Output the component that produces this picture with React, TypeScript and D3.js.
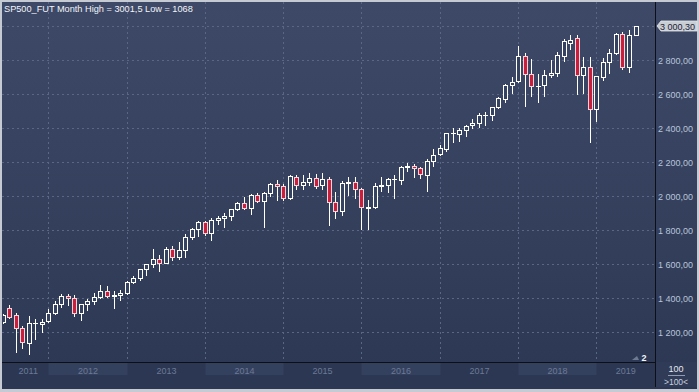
import React, { useEffect, useRef } from 'react';
import * as d3 from 'd3';

// monthly candles, Jun 2011 .. Jul 2019
const months = [
  '2011-06', '2011-07', '2011-08', '2011-09', '2011-10', '2011-11', '2011-12',
  '2012-01', '2012-02', '2012-03', '2012-04', '2012-05', '2012-06', '2012-07', '2012-08', '2012-09', '2012-10', '2012-11', '2012-12',
  '2013-01', '2013-02', '2013-03', '2013-04', '2013-05', '2013-06', '2013-07', '2013-08', '2013-09', '2013-10', '2013-11', '2013-12',
  '2014-01', '2014-02', '2014-03', '2014-04', '2014-05', '2014-06', '2014-07', '2014-08', '2014-09', '2014-10', '2014-11', '2014-12',
  '2015-01', '2015-02', '2015-03', '2015-04', '2015-05', '2015-06', '2015-07', '2015-08', '2015-09', '2015-10', '2015-11', '2015-12',
  '2016-01', '2016-02', '2016-03', '2016-04', '2016-05', '2016-06', '2016-07', '2016-08', '2016-09', '2016-10', '2016-11', '2016-12',
  '2017-01', '2017-02', '2017-03', '2017-04', '2017-05', '2017-06', '2017-07', '2017-08', '2017-09', '2017-10', '2017-11', '2017-12',
  '2018-01', '2018-02', '2018-03', '2018-04', '2018-05', '2018-06', '2018-07', '2018-08', '2018-09', '2018-10', '2018-11', '2018-12',
  '2019-01', '2019-02', '2019-03', '2019-04', '2019-05', '2019-06', '2019-07',
];

const opens = [
  1259, 1338, 1300, 1220, 1131, 1250, 1248,
  1262, 1312, 1366, 1408, 1398, 1310, 1362, 1379, 1407, 1441, 1412, 1416,
  1426, 1495, 1515, 1567, 1597, 1631, 1606, 1686, 1638, 1680, 1757, 1806,
  1845, 1783, 1858, 1870, 1884, 1924, 1957, 1927, 2003, 1968, 2016, 2068,
  2058, 1990, 2110, 2062, 2083, 2108, 2062, 2102, 1966, 1910, 2076, 2084,
  2043, 1931, 1933, 2058, 2064, 2097, 2092, 2172, 2176, 2162, 2124, 2205,
  2245, 2275, 2370, 2365, 2386, 2417, 2428, 2474, 2477, 2522, 2572, 2650,
  2678, 2826, 2716, 2648, 2650, 2712, 2726, 2824, 2902, 2928, 2712, 2758,
  2512, 2702, 2787, 2839, 2953, 2757, 2948,
];

const highs = [
  1302, 1360, 1310, 1234, 1293, 1277, 1272,
  1335, 1378, 1420, 1422, 1415, 1363, 1392, 1430, 1475, 1470, 1438, 1448,
  1500, 1530, 1570, 1600, 1687, 1654, 1698, 1707, 1730, 1775, 1812, 1850,
  1850, 1867, 1884, 1897, 1924, 1962, 1991, 2008, 2019, 2020, 2075, 2093,
  2072, 2122, 2122, 2122, 2135, 2129, 2133, 2113, 2020, 2090, 2113, 2110,
  2046, 1975, 2074, 2109, 2103, 2120, 2178, 2194, 2190, 2170, 2215, 2278,
  2300, 2372, 2401, 2400, 2418, 2454, 2488, 2494, 2520, 2582, 2660, 2700,
  2880, 2840, 2803, 2720, 2742, 2800, 2850, 2925, 2950, 2946, 2820, 2815,
  2708, 2810, 2862, 2960, 2964, 2977, 3001.5,
];

const lows = [
  1252, 1283, 1082, 1102, 1068, 1155, 1200,
  1255, 1306, 1347, 1358, 1291, 1267, 1325, 1365, 1397, 1403, 1340, 1385,
  1420, 1485, 1503, 1536, 1581, 1555, 1603, 1625, 1630, 1640, 1745, 1765,
  1770, 1738, 1834, 1815, 1860, 1915, 1925, 1895, 1964, 1814, 2001, 1973,
  1978, 1981, 2038, 2040, 2064, 2044, 2040, 1831, 1868, 1887, 2005, 1985,
  1804, 1802, 1930, 2030, 2024, 1986, 2070, 2148, 2112, 2105, 2028, 2176,
  2238, 2266, 2320, 2322, 2350, 2400, 2405, 2415, 2445, 2518, 2555, 2607,
  2670, 2530, 2588, 2553, 2590, 2698, 2708, 2795, 2862, 2600, 2605, 2316,
  2440, 2684, 2724, 2835, 2746, 2730, 2946,
];

const closes = [
  1298, 1288, 1220, 1140, 1250, 1252, 1257,
  1312, 1366, 1408, 1398, 1310, 1362, 1379, 1407, 1441, 1412, 1416, 1426,
  1495, 1515, 1567, 1597, 1631, 1606, 1686, 1638, 1680, 1757, 1806, 1845,
  1783, 1859, 1870, 1884, 1924, 1957, 1927, 2003, 1968, 2016, 2068, 2058,
  1990, 2115, 2062, 2082, 2106, 2060, 2102, 1966, 1908, 2076, 2084, 2043,
  1935, 1933, 2058, 2064, 2097, 2098, 2172, 2174, 2166, 2128, 2204, 2240,
  2280, 2370, 2373, 2386, 2414, 2430, 2478, 2477, 2522, 2574, 2650, 2670,
  2826, 2716, 2648, 2649, 2710, 2726, 2828, 2912, 2920, 2712, 2757, 2512,
  2705, 2787, 2839, 2955, 2757, 2947, 3000.3,
];

const years = ['2011', '2012', '2013', '2014', '2015', '2016', '2017', '2018', '2019'];
const priceTicks = [1200, 1400, 1600, 1800, 2000, 2200, 2400, 2600, 2800, 3000];
const lastPrice = 3000.3;
const title = 'SP500_FUT Month High = 3001,5 Low = 1068';

const W = 699;
const H = 392;
const plot = { left: 2, top: 2, right: 655, bottom: 362 };
const FONT = 'Arial, "Liberation Sans", sans-serif';

const locale = d3.formatLocale({ decimal: ',', thousands: ' ', grouping: [3], currency: ['', ''] });
const fmt = locale.format(',.2f');

const App: React.FC = () => {
  const svgRef = useRef<SVGSVGElement>(null);

  useEffect(() => {
    if (!svgRef.current) return;
    const svg = d3.select(svgRef.current);
    svg.selectAll('*').remove();

    const x = d3.scaleLinear().domain([0, months.length - 1]).range([2.6, 635.5]);
    const y = d3.scaleLinear().domain([1200, 2800]).range([331.7, 60]);
    const px = (v: number) => Math.round(v) + 0.5;

    const defs = svg.append('defs');
    const grad = defs.append('linearGradient').attr('id', 'bg').attr('x1', 0).attr('y1', 0).attr('x2', 0).attr('y2', 1);
    grad.append('stop').attr('offset', '0%').attr('stop-color', '#3d4967');
    grad.append('stop').attr('offset', '100%').attr('stop-color', '#2c3853');
    defs.append('clipPath').attr('id', 'plotclip')
      .append('rect')
      .attr('x', plot.left + 1).attr('y', plot.top)
      .attr('width', plot.right - plot.left - 1).attr('height', plot.bottom - plot.top);

    // frame + background
    svg.append('rect').attr('width', W).attr('height', H).attr('fill', '#c6cbd3');
    svg.append('rect').attr('x', 2).attr('y', 2).attr('width', W - 4).attr('height', H - 5).attr('fill', 'url(#bg)');

    // x axis band with alternating years
    const janIdx = months.map((m, i) => (m.endsWith('-01') ? i : -1)).filter(i => i >= 0);
    const bandEdges = [plot.left, ...janIdx.map(i => px(x(i))), plot.right];
    svg.append('rect')
      .attr('x', plot.left).attr('y', plot.bottom)
      .attr('width', plot.right - plot.left).attr('height', 387 - plot.bottom)
      .attr('fill', '#2b3753');
    years.forEach((yr, k) => {
      const x0 = bandEdges[k];
      const x1 = bandEdges[k + 1];
      if (+yr % 2 === 0) {
        svg.append('rect')
          .attr('x', x0).attr('y', plot.bottom)
          .attr('width', x1 - x0).attr('height', 387 - plot.bottom - 12)
          .attr('fill', '#34415e');
      }
      svg.append('text')
        .attr('x', (x0 + x1) / 2 + (k === 0 ? 3 : 0))
        .attr('y', 373.5)
        .attr('text-anchor', 'middle')
        .attr('font-family', FONT)
        .attr('font-size', 9)
        .attr('fill', '#6c7a96')
        .text(yr);
    });

    // right axis box bottom
    svg.append('rect')
      .attr('x', plot.right).attr('y', plot.bottom)
      .attr('width', W - 2 - plot.right).attr('height', 387 - plot.bottom)
      .attr('fill', '#2f3b57');

    // grid
    const grid = svg.append('g').attr('stroke', '#5a6784').attr('stroke-dasharray', '2,3').attr('stroke-width', 1);
    priceTicks.forEach(t => {
      grid.append('line')
        .attr('x1', plot.left).attr('x2', plot.right)
        .attr('y1', px(y(t))).attr('y2', px(y(t)));
    });
    janIdx.forEach(i => {
      grid.append('line')
        .attr('x1', px(x(i))).attr('x2', px(x(i)))
        .attr('y1', plot.top).attr('y2', plot.bottom);
    });

    // candles
    const g = svg.append('g').attr('clip-path', 'url(#plotclip)');
    months.forEach((_, i) => {
      const c = Math.round(x(i));
      const o = opens[i];
      const cl = closes[i];
      const up = cl >= o;
      const yTop = Math.round(y(Math.max(o, cl)));
      const yBot = Math.round(y(Math.min(o, cl)));
      g.append('line')
        .attr('x1', c + 0.5).attr('x2', c + 0.5)
        .attr('y1', Math.round(y(highs[i]))).attr('y2', Math.round(y(lows[i])) + 1)
        .attr('stroke', '#ffffff').attr('stroke-width', 1);
      if (yBot - yTop < 1) {
        g.append('line')
          .attr('x1', c - 2).attr('x2', c + 3)
          .attr('y1', yTop + 0.5).attr('y2', yTop + 0.5)
          .attr('stroke', '#ffffff').attr('stroke-width', 1);
      } else {
        g.append('rect')
          .attr('x', c - 1.5).attr('y', yTop + 0.5)
          .attr('width', 4).attr('height', yBot - yTop)
          .attr('fill', up ? '#354260' : '#c81f3d')
          .attr('stroke', up ? '#ffffff' : '#f3d3da')
          .attr('stroke-width', 1);
      }
    });

    // axis lines
    svg.append('line')
      .attr('x1', plot.left).attr('x2', plot.right)
      .attr('y1', plot.bottom + 0.5).attr('y2', plot.bottom + 0.5)
      .attr('stroke', '#0c0f16');
    svg.append('line')
      .attr('x1', plot.right + 0.5).attr('x2', plot.right + 0.5)
      .attr('y1', plot.top).attr('y2', 387)
      .attr('stroke', '#0c0f16');

    // price labels
    priceTicks.filter(t => t < 3000).forEach(t => {
      svg.append('text')
        .attr('x', 658).attr('y', Math.round(y(t)) + 3.5)
        .attr('font-family', FONT).attr('font-size', 9)
        .attr('fill', '#b9c5da')
        .text(fmt(t));
    });

    // last price tag
    const ty = Math.round(y(lastPrice));
    svg.append('path')
      .attr('d', `M657,${ty} L661,${ty - 5} L${W - 2},${ty - 5} L${W - 2},${ty + 5} L661,${ty + 5} Z`)
      .attr('fill', '#c9cdd4').attr('stroke', '#e6e8ec').attr('stroke-width', 0.8);
    svg.append('text')
      .attr('x', 660).attr('y', ty + 3.5)
      .attr('font-family', FONT).attr('font-size', 9)
      .attr('fill', '#1c2436')
      .text(fmt(lastPrice));

    // title
    svg.append('text')
      .attr('x', 4).attr('y', 12)
      .attr('font-family', FONT).attr('font-size', 9.2)
      .attr('fill', '#f2f4f8')
      .text(title);

    // bottom-right zoom box
    svg.append('text')
      .attr('x', 676).attr('y', 372)
      .attr('text-anchor', 'middle')
      .attr('font-family', FONT).attr('font-size', 9)
      .attr('fill', '#e4e8f0')
      .text('100');
    svg.append('line')
      .attr('x1', 668).attr('x2', 685).attr('y1', 375.5).attr('y2', 375.5)
      .attr('stroke', '#8f9ab0');
    svg.append('text')
      .attr('x', 676).attr('y', 385)
      .attr('text-anchor', 'middle')
      .attr('font-family', FONT).attr('font-size', 8.5)
      .attr('fill', '#c9d0dd')
      .text('>100<');

    // pane marker
    svg.append('path')
      .attr('d', 'M632,360 L637,356 L639,360 Z')
      .attr('fill', '#6f7a90');
    svg.append('text')
      .attr('x', 641.5).attr('y', 360.5)
      .attr('font-family', FONT).attr('font-size', 9)
      .attr('font-weight', 'bold')
      .attr('fill', '#f4f6fa')
      .text('2');
  }, []);

  return (
    <div>
      <style>{'body{margin:0}'}</style>
      <svg ref={svgRef} width={W} height={H} style={{ display: 'block' }}></svg>
    </div>
  );
};

export default App;
